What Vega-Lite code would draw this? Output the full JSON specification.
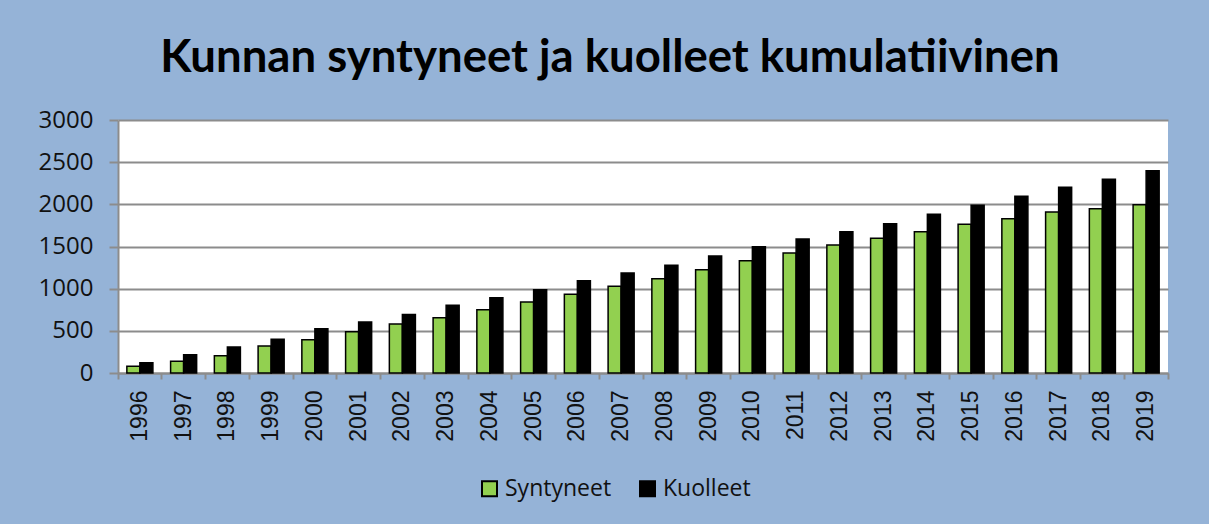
{
  "$schema": "https://vega.github.io/schema/vega-lite/v6.json",
  "width": 1050,
  "height": 253,
  "autosize": "none",
  "padding": {"left": 118, "top": 120, "right": 41, "bottom": 151},
  "background": "#95B3D7",
  "title": {
    "text": "Kunnan syntyneet ja kuolleet kumulatiivinen",
    "font": "Lato",
    "fontWeight": "bold",
    "fontSize": 45.5,
    "color": "#000000",
    "anchor": "middle",
    "frame": "group",
    "dx": -33,
    "offset": 27
  },
  "data": {
    "values": [
      {"vuosi": "1996", "sarja": "Syntyneet", "arvo": 80},
      {"vuosi": "1996", "sarja": "Kuolleet", "arvo": 122},
      {"vuosi": "1997", "sarja": "Syntyneet", "arvo": 138},
      {"vuosi": "1997", "sarja": "Kuolleet", "arvo": 217},
      {"vuosi": "1998", "sarja": "Syntyneet", "arvo": 205},
      {"vuosi": "1998", "sarja": "Kuolleet", "arvo": 308},
      {"vuosi": "1999", "sarja": "Syntyneet", "arvo": 320},
      {"vuosi": "1999", "sarja": "Kuolleet", "arvo": 399},
      {"vuosi": "2000", "sarja": "Syntyneet", "arvo": 395},
      {"vuosi": "2000", "sarja": "Kuolleet", "arvo": 525},
      {"vuosi": "2001", "sarja": "Syntyneet", "arvo": 490},
      {"vuosi": "2001", "sarja": "Kuolleet", "arvo": 605},
      {"vuosi": "2002", "sarja": "Syntyneet", "arvo": 581},
      {"vuosi": "2002", "sarja": "Kuolleet", "arvo": 695},
      {"vuosi": "2003", "sarja": "Syntyneet", "arvo": 656},
      {"vuosi": "2003", "sarja": "Kuolleet", "arvo": 802},
      {"vuosi": "2004", "sarja": "Syntyneet", "arvo": 751},
      {"vuosi": "2004", "sarja": "Kuolleet", "arvo": 893},
      {"vuosi": "2005", "sarja": "Syntyneet", "arvo": 842},
      {"vuosi": "2005", "sarja": "Kuolleet", "arvo": 988},
      {"vuosi": "2006", "sarja": "Syntyneet", "arvo": 933},
      {"vuosi": "2006", "sarja": "Kuolleet", "arvo": 1095},
      {"vuosi": "2007", "sarja": "Syntyneet", "arvo": 1028},
      {"vuosi": "2007", "sarja": "Kuolleet", "arvo": 1186},
      {"vuosi": "2008", "sarja": "Syntyneet", "arvo": 1119},
      {"vuosi": "2008", "sarja": "Kuolleet", "arvo": 1277},
      {"vuosi": "2009", "sarja": "Syntyneet", "arvo": 1225},
      {"vuosi": "2009", "sarja": "Kuolleet", "arvo": 1387},
      {"vuosi": "2010", "sarja": "Syntyneet", "arvo": 1332},
      {"vuosi": "2010", "sarja": "Kuolleet", "arvo": 1498},
      {"vuosi": "2011", "sarja": "Syntyneet", "arvo": 1423},
      {"vuosi": "2011", "sarja": "Kuolleet", "arvo": 1589},
      {"vuosi": "2012", "sarja": "Syntyneet", "arvo": 1518},
      {"vuosi": "2012", "sarja": "Kuolleet", "arvo": 1676},
      {"vuosi": "2013", "sarja": "Syntyneet", "arvo": 1597},
      {"vuosi": "2013", "sarja": "Kuolleet", "arvo": 1771},
      {"vuosi": "2014", "sarja": "Syntyneet", "arvo": 1676},
      {"vuosi": "2014", "sarja": "Kuolleet", "arvo": 1882},
      {"vuosi": "2015", "sarja": "Syntyneet", "arvo": 1763},
      {"vuosi": "2015", "sarja": "Kuolleet", "arvo": 1988},
      {"vuosi": "2016", "sarja": "Syntyneet", "arvo": 1830},
      {"vuosi": "2016", "sarja": "Kuolleet", "arvo": 2095},
      {"vuosi": "2017", "sarja": "Syntyneet", "arvo": 1909},
      {"vuosi": "2017", "sarja": "Kuolleet", "arvo": 2202},
      {"vuosi": "2018", "sarja": "Syntyneet", "arvo": 1949},
      {"vuosi": "2018", "sarja": "Kuolleet", "arvo": 2297},
      {"vuosi": "2019", "sarja": "Syntyneet", "arvo": 1996},
      {"vuosi": "2019", "sarja": "Kuolleet", "arvo": 2399}
    ]
  },
  "mark": {"type": "bar", "stroke": "#000000", "strokeWidth": 1.5},
  "encoding": {
    "x": {
      "field": "vuosi",
      "type": "nominal",
      "scale": {"paddingInner": 0, "paddingOuter": 0},
      "axis": {
        "title": null,
        "labelAngle": -90,
        "labelAlign": "right",
        "labelBaseline": "middle",
        "labelFont": "Liberation Sans",
        "labelFontSize": 23,
        "labelColor": "#111111",
        "labelPadding": 11,
        "bandPosition": 1,
        "tickExtra": true,
        "tickSize": 6,
        "tickColor": "#8c8c8c",
        "tickWidth": 2,
        "domainColor": "#8c8c8c",
        "domainWidth": 2,
        "grid": false
      }
    },
    "xOffset": {
      "field": "sarja",
      "type": "nominal",
      "sort": ["Syntyneet", "Kuolleet"],
      "scale": {"paddingInner": 0, "paddingOuter": 0.68}
    },
    "y": {
      "field": "arvo",
      "type": "quantitative",
      "scale": {"domain": [0, 3000], "nice": false},
      "axis": {
        "title": null,
        "values": [0, 500, 1000, 1500, 2000, 2500, 3000],
        "format": "d",
        "labelFont": "Open Sans",
        "labelFontSize": 24,
        "labelColor": "#111111",
        "labelPadding": 16,
        "tickSize": 9,
        "tickColor": "#8c8c8c",
        "tickWidth": 2,
        "domainColor": "#8c8c8c",
        "domainWidth": 2,
        "gridColor": "#8c8c8c",
        "gridWidth": 2
      }
    },
    "color": {
      "field": "sarja",
      "type": "nominal",
      "sort": ["Syntyneet", "Kuolleet"],
      "scale": {"domain": ["Syntyneet", "Kuolleet"], "range": ["#92D050", "#000000"]},
      "legend": {
        "title": null,
        "orient": "none",
        "direction": "horizontal",
        "legendX": 360,
        "legendY": 357,
        "symbolType": "square",
        "symbolSize": 225,
        "symbolStrokeColor": "#000000",
        "symbolStrokeWidth": 2,
        "labelFont": "Open Sans",
        "labelFontSize": 23,
        "labelColor": "#111111",
        "labelOffset": 4,
        "columnPadding": 24
      }
    }
  },
  "config": {
    "view": {"fill": "#ffffff", "stroke": null}
  }
}
